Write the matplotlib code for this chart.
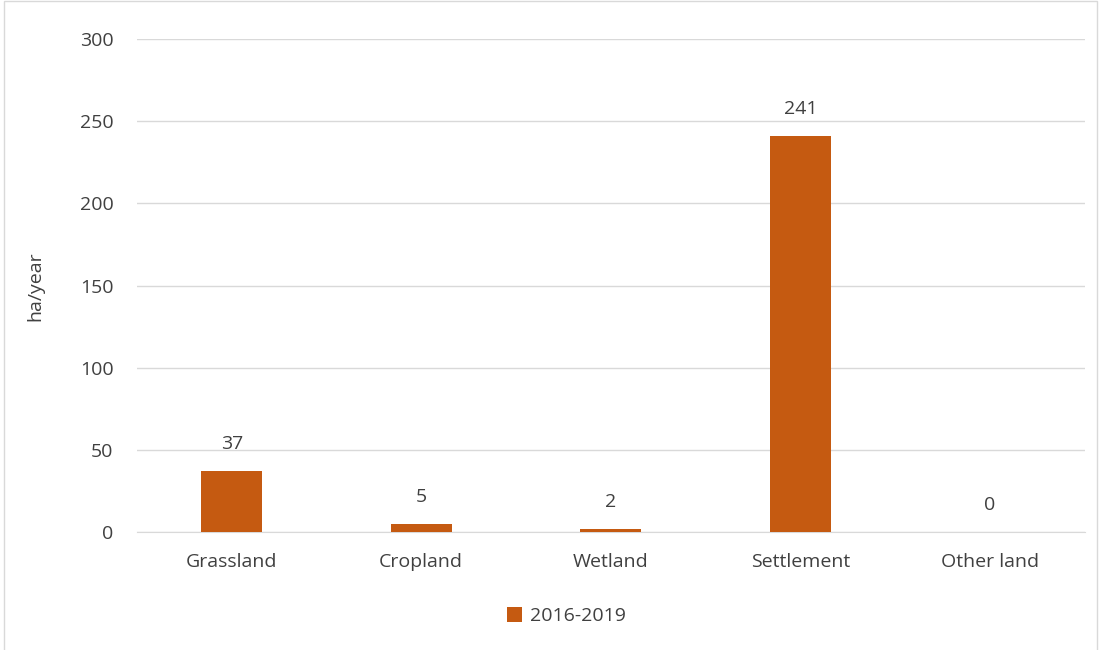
import matplotlib.pyplot as plt
import numpy as np
from matplotlib.patches import Rectangle

categories = ['Grassland', 'Cropland', 'Wetland', 'Settlement', 'Other land']
values = [37, 5, 2, 241, 0]
series_name = '2016-2019'
yticks = [0, 50, 100, 150, 200, 250, 300]

plt.rcParams['font.family'] = ['Open Sans', 'DejaVu Sans']
bar_color = '#C55A11'
text_color = '#404040'
fs = 14

fig = plt.figure(figsize=(11, 6.5), dpi=100)
ax = fig.add_axes([0.1245, 0.1815, 0.8615, 0.7585])

x = np.arange(len(categories))
bars = ax.bar(x, values, width=0.32, color=bar_color, label=series_name, zorder=3)
for xi, v in zip(x, values):
    ax.annotate(str(v), (xi, v), xytext=(0, 13), textcoords='offset points',
                ha='center', va='bottom', fontsize=fs, color=text_color)

ax.set_xlim(-0.5, len(categories) - 0.5)
ax.set_ylim(0, 300)
ax.set_yticks(yticks)
ax.set_xticks(x)
ax.set_xticklabels(categories)
ax.tick_params(axis='both', length=0, labelsize=fs, labelcolor=text_color)
ax.tick_params(axis='y', pad=17)
ax.tick_params(axis='x', pad=15)
ax.grid(axis='y', color='#D9D9D9', linewidth=1, zorder=0)
for s in ['top', 'right', 'left']:
    ax.spines[s].set_visible(False)
ax.spines['bottom'].set_color('#D9D9D9')
fig.text(35 / 1100, 1 - 286 / 650, 'ha/year', rotation=90, ha='center', va='center',
         fontsize=fs, color=text_color)

fig.legend(handles=[bars], labels=[series_name], loc='center', bbox_to_anchor=(0.515, 0.052),
           frameon=False, fontsize=fs, handlelength=0.8, handleheight=0.8, handletextpad=0.4,
           labelcolor=text_color)

fig.patches.append(Rectangle((0.004, -0.01), 0.993, 1.008, transform=fig.transFigure,
                             fill=False, edgecolor='#D9D9D9', linewidth=1))

fig.savefig('out.png', dpi=100)
